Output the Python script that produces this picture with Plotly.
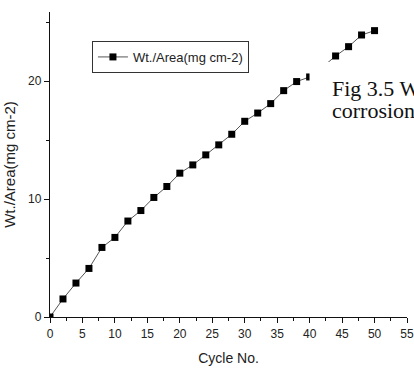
import plotly.graph_objects as go

# Weight gain per unit area against cycle number
cycles = [0, 2, 4, 6, 8, 10, 12, 14, 16, 18, 20, 22, 24, 26, 28, 30,
          32, 34, 36, 38, 40, 42, 44, 46, 48, 50]
wt_area = [0, 1.53, 2.88, 4.12, 5.90, 6.75, 8.14, 9.03, 10.14, 11.07, 12.2,
           12.9, 13.75, 14.6, 15.5, 16.6, 17.3, 18.1, 19.2, 19.97, 20.36,
           21.2, 22.14, 22.93, 23.92, 24.29]

series_name = "Wt./Area(mg cm-2)"
x_title = "Cycle No."
y_title = "Wt./Area(mg cm-2)"
x_ticks = [0, 5, 10, 15, 20, 25, 30, 35, 40, 45, 50, 55]
y_ticks = [0, 10, 20]
caption_lines = ["Fig 3.5 Weight gain per unit area during hot",
                 "corrosion cycles"]

font_family = "Arial, Liberation Sans, sans-serif"

fig = go.Figure()
fig.add_trace(go.Scatter(
    x=cycles, y=wt_area, name=series_name, mode="lines+markers",
    line=dict(color="#555555", width=1),
    marker=dict(symbol="square", size=7, color="#000000"),
))

axis_common = dict(
    showline=True, linecolor="#111111", linewidth=1.3,
    ticks="outside", ticklen=5, tickwidth=1.3, tickcolor="#111111",
    showgrid=False, zeroline=False, mirror=False, automargin=False,
    tickfont=dict(family=font_family, size=12, color="#222222"),
)

fig.update_xaxes(
    range=[0, 55], tickvals=x_ticks,
    minor=dict(ticks="outside", ticklen=3, tickwidth=1.1, tickcolor="#111111",
               dtick=2.5, showgrid=False),
    title=dict(text=x_title, font=dict(family=font_family, size=14, color="#222222"),
               standoff=13),
    **axis_common,
)
fig.update_yaxes(
    range=[0, 25.87], tickvals=y_ticks,
    minor=dict(ticks="outside", ticklen=3, tickwidth=1.1, tickcolor="#111111",
               dtick=5, showgrid=False),
    title=dict(text=y_title, font=dict(family=font_family, size=15, color="#222222"),
               standoff=8),
    **axis_common,
)

# White caption panel laid over the upper right of the plot
fig.add_shape(type="rect", xref="paper", yref="paper",
              x0=0.727, x1=1.05, y0=0.57, y1=0.836,
              fillcolor="white", line=dict(width=0), layer="above")

for i, line in enumerate(caption_lines):
    fig.add_annotation(
        text=line, xref="paper", yref="paper", x=0.783, y=0.749 - i * 0.071,
        xanchor="left", yanchor="middle", showarrow=False,
        font=dict(family="Times New Roman, Liberation Serif, serif", size=22,
                  color="#111111"),
    )

fig.update_layout(
    width=414, height=368,
    margin=dict(l=50, r=6.5, t=12, b=50.7),
    paper_bgcolor="white", plot_bgcolor="white",
    showlegend=True,
    legend=dict(
        x=0.1175, y=0.905, xanchor="left", yanchor="top",
        bordercolor="#333333", borderwidth=1, bgcolor="white",
        font=dict(family=font_family, size=13, color="#222222"),
        itemwidth=30, tracegroupgap=0,
    ),
)

fig.write_html("out.html")
